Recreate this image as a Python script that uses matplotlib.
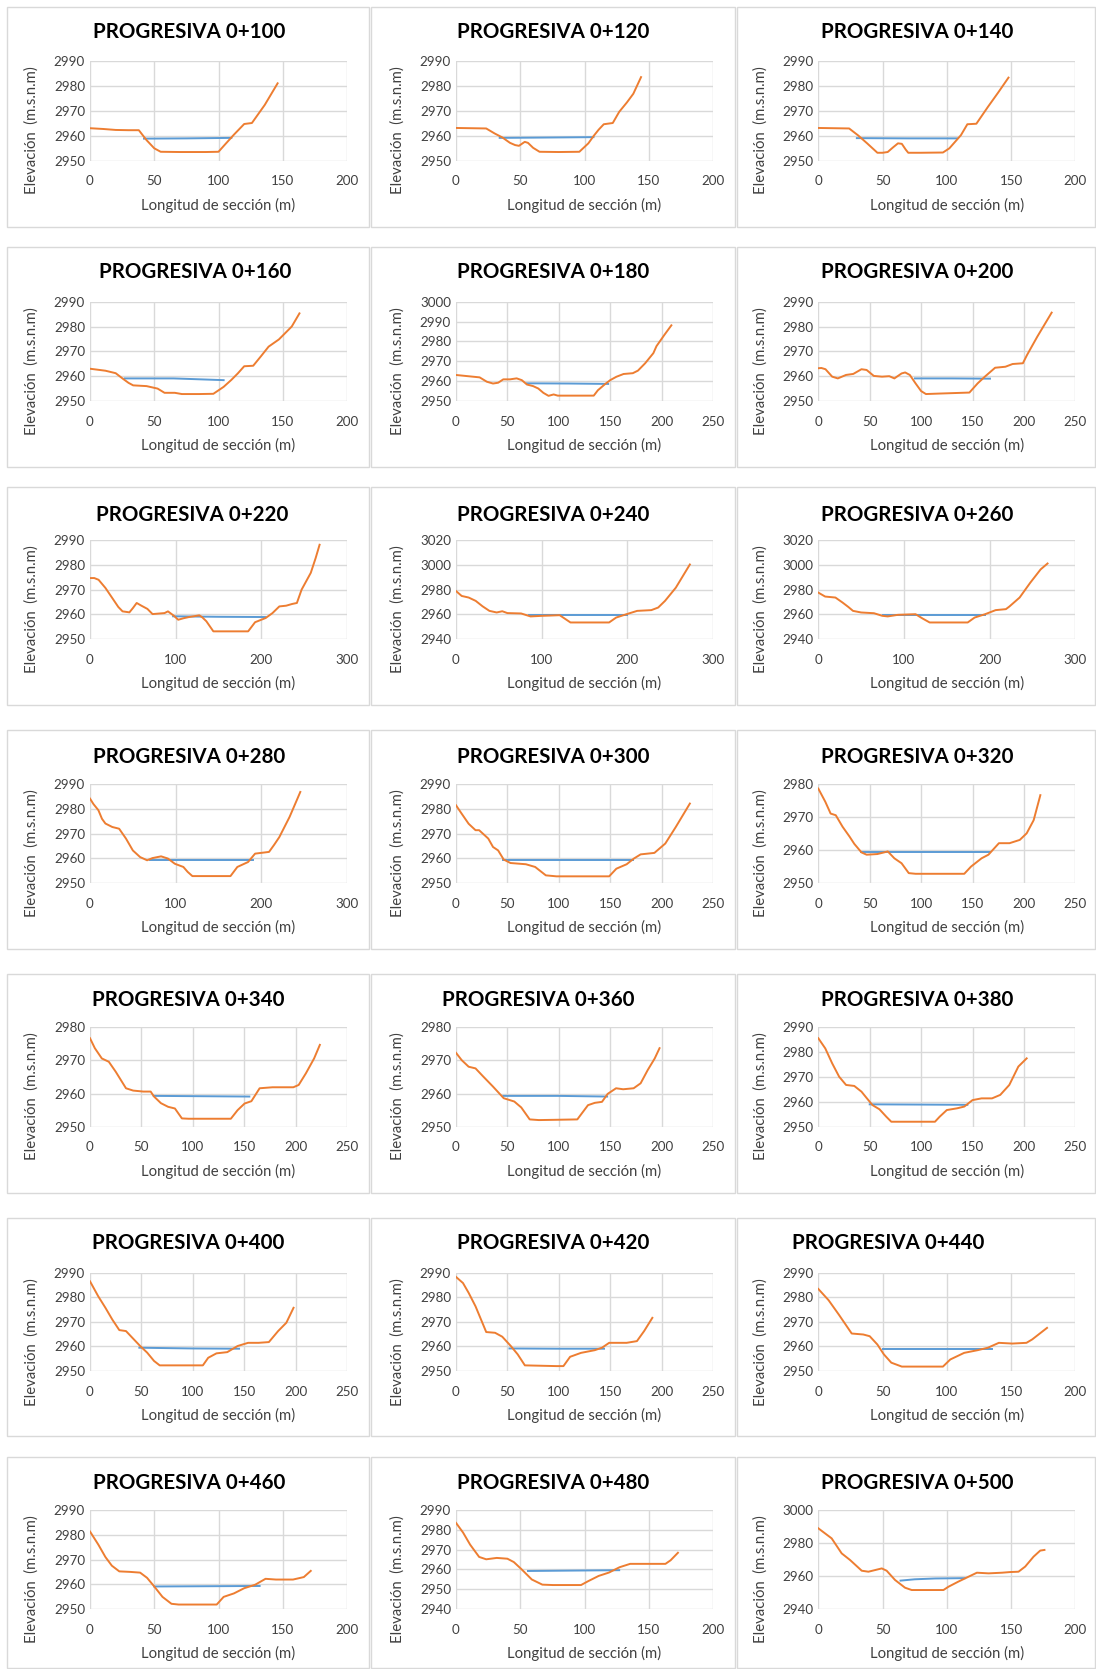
import numpy as np
import matplotlib
matplotlib.use("Agg")
import matplotlib.pyplot as plt
from matplotlib.patches import Rectangle

# ---------------------------------------------------------------------------
# Cross sections: terrain profile (x, z) and water surface (wx, wz), in metres
# ---------------------------------------------------------------------------
st100_x = [0, 10, 20, 30, 38, 44, 50, 55, 70, 90, 100, 105, 112, 120, 126, 136, 146]
st100_z = [2963.1, 2962.8, 2962.4, 2962.3, 2962.3, 2958.3, 2955.0, 2953.6, 2953.5, 2953.5, 2953.6,
           2956.5, 2960.5, 2964.8, 2965.2, 2972.5, 2981.2]
st100_wx = [42, 75, 110]
st100_wz = [2958.9, 2959.0, 2959.2]

st120_x = [0, 23.5, 30, 36, 42, 46, 49, 53.5, 56, 60, 65, 80, 96, 103, 107, 111, 115, 122, 127, 133, 138, 144]
st120_z = [2963.2, 2963.0, 2961.0, 2959.4, 2957.2, 2956.3, 2956.0, 2957.6, 2957.2, 2955.2, 2953.6, 2953.5,
           2953.6, 2957.0, 2959.9, 2962.5, 2964.7, 2965.2, 2969.7, 2973.5, 2977.0, 2983.7]
st120_wx = [34, 60, 107]
st120_wz = [2959.2, 2959.3, 2959.5]

st140_x = [0, 24, 31, 38, 46, 50, 54, 58, 62, 65, 68, 70, 80, 97, 102, 105.4, 111, 116, 123, 132, 140, 148]
st140_z = [2963.2, 2963.0, 2960.2, 2957.0, 2953.2, 2953.2, 2953.5, 2955.3, 2957.0, 2956.8, 2954.5, 2953.2,
           2953.2, 2953.3, 2955.0, 2957.0, 2960.3, 2964.7, 2964.9, 2971.7, 2977.5, 2983.5]
st140_wx = [30, 70, 108]
st140_wz = [2959.1, 2959.0, 2959.0]

st160_x = [0, 12, 20, 25.5, 30, 33.6, 44, 52.6, 58, 66, 71.5, 85, 96, 104, 110, 115, 120, 127, 133, 139,
           147, 157, 163]
st160_z = [2963.0, 2962.2, 2961.2, 2959.0, 2957.3, 2956.3, 2956.0, 2955.0, 2953.3, 2953.3, 2952.8, 2952.8,
           2952.9, 2955.7, 2958.5, 2961.1, 2964.0, 2964.2, 2968.0, 2971.9, 2974.8, 2980.0, 2985.3]
st160_wx = [27, 65, 104]
st160_wz = [2959.1, 2959.1, 2958.4]

st180_x = [0, 23, 30, 36, 41, 46, 52.5, 59, 64, 69, 75, 80, 85, 90, 95, 99, 111, 134, 138, 145, 150, 156,
           163, 172, 177, 184, 192, 195, 203, 209.5]
st180_z = [2963.1, 2961.9, 2959.7, 2958.8, 2959.2, 2960.9, 2960.9, 2961.4, 2960.5, 2958.3, 2957.5, 2956.3,
           2954.1, 2952.6, 2953.3, 2952.7, 2952.7, 2952.7, 2955.4, 2958.5, 2960.5, 2962.2, 2963.6, 2964.0,
           2965.3, 2969.0, 2974.1, 2977.6, 2983.5, 2988.1]
st180_wx = [69, 110, 148]
st180_wz = [2958.9, 2958.8, 2958.6]

st200_x = [0, 3, 7, 13.5, 19, 27, 34, 42, 47, 54, 62, 69, 74, 81, 84.5, 89, 94.6, 100, 104.7, 118, 147,
           155, 162, 172, 182, 189, 199, 203, 213, 227]
st200_z = [2963.2, 2963.3, 2962.8, 2959.8, 2959.1, 2960.5, 2960.9, 2962.8, 2962.5, 2960.1, 2959.8, 2960.0,
           2959.1, 2961.1, 2961.5, 2960.5, 2957.1, 2954.0, 2952.8, 2953.0, 2953.4, 2957.1, 2959.8, 2963.4,
           2963.8, 2964.9, 2965.2, 2968.5, 2975.9, 2985.6]
st200_wx = [94, 130, 167]
st200_wz = [2959.1, 2959.1, 2959.0]

st220_x = [0, 5, 10, 18, 26, 33, 38, 46, 50, 54.5, 60, 67, 73, 80, 87, 91, 97.6, 103, 109, 115.5, 121,
           127.6, 131, 135.8, 144, 165, 184.6, 192.7, 205, 213, 221, 229, 236, 241.5, 247, 257.7, 263.4, 268]
st220_z = [2974.7, 2974.7, 2974.0, 2970.7, 2966.6, 2963.0, 2961.2, 2960.8, 2962.5, 2964.6, 2963.5, 2962.2,
           2960.1, 2960.3, 2960.5, 2961.2, 2959.5, 2957.8, 2958.4, 2958.9, 2959.2, 2959.6, 2958.8, 2957.2,
           2953.1, 2953.1, 2953.1, 2956.8, 2958.5, 2960.5, 2963.2, 2963.5, 2964.2, 2964.6, 2970.0, 2976.8,
           2982.8, 2988.2]
st220_wx = [97, 150, 205]
st220_wz = [2959.2, 2959.0, 2958.9]

st240_x = [0, 6.6, 14.8, 23, 31, 39, 47.5, 54, 60, 76, 87, 101, 110, 121, 127, 133.6, 155, 178.7, 187,
           199, 211.5, 228, 236, 244, 256.6, 273]
st240_z = [2978.9, 2974.9, 2973.6, 2970.9, 2966.5, 2962.8, 2961.5, 2962.5, 2961.0, 2960.7, 2958.3, 2958.8,
           2959.0, 2959.3, 2956.5, 2953.4, 2953.4, 2953.4, 2957.4, 2960.1, 2962.8, 2963.4, 2965.5, 2970.9,
           2981.6, 3000.4]
st240_wx = [85, 140, 200]
st240_wz = [2959.3, 2959.3, 2959.3]

st260_x = [0, 8, 20, 28.4, 35, 40.5, 50, 65, 74.6, 81, 93, 113.5, 122, 130, 150, 174.4, 182.5, 194.7,
           207, 219, 223, 235, 247.4, 259.5, 267.6]
st260_z = [2977.6, 2974.4, 2973.6, 2969.5, 2966.0, 2962.8, 2961.5, 2960.9, 2958.8, 2958.3, 2959.6, 2960.1,
           2956.5, 2953.4, 2953.4, 2953.4, 2957.4, 2960.1, 2963.4, 2964.2, 2966.3, 2973.6, 2985.6, 2996.4,
           3001.2]
st260_wx = [75, 135, 195]
st260_wz = [2959.3, 2959.3, 2959.3]

st280_x = [0, 4, 9.8, 14, 18, 26, 34, 42, 50, 58.5, 66.7, 73, 83, 91, 99, 109, 114, 119.5, 140, 164,
           172, 184.5, 192.7, 209, 215, 221, 233, 245.5]
st280_z = [2984.2, 2982.0, 2979.5, 2976.0, 2974.1, 2972.7, 2972.0, 2968.0, 2963.2, 2960.5, 2959.2, 2960.1,
           2960.8, 2959.9, 2957.8, 2956.5, 2954.5, 2952.8, 2952.8, 2952.8, 2956.5, 2958.5, 2961.9, 2962.6,
           2965.5, 2968.6, 2976.8, 2986.9]
st280_wx = [70, 130, 190]
st280_wz = [2959.2, 2959.2, 2959.2]

st300_x = [0, 5.5, 12.3, 19, 22.5, 31.4, 36, 41, 46.4, 53, 68, 77, 87.4, 97.7, 120, 149, 156, 166, 173,
           179.6, 193, 203.6, 213.8, 227.5]
st300_z = [2981.5, 2978.1, 2974.0, 2971.4, 2971.4, 2968.0, 2964.6, 2963.2, 2959.5, 2958.1, 2957.6, 2956.5,
           2953.1, 2952.7, 2952.7, 2952.7, 2955.8, 2957.6, 2959.9, 2961.6, 2962.2, 2966.0, 2972.7, 2982.2]
st300_wx = [46, 110, 172]
st300_wz = [2959.2, 2959.2, 2959.2]

st320_x = [0, 6.8, 12, 17, 23.6, 30.4, 35, 42, 47, 57.4, 64, 67.6, 74, 81, 88, 94.6, 120, 142, 148.6,
           158.8, 165.5, 175.7, 186, 196, 202.7, 209.5, 216]
st320_z = [2978.7, 2974.7, 2971.1, 2970.6, 2967.1, 2964.1, 2961.9, 2959.3, 2958.6, 2958.8, 2959.3, 2959.6,
           2957.5, 2956.0, 2953.0, 2952.8, 2952.8, 2952.8, 2955.0, 2957.5, 2958.6, 2962.1, 2962.1, 2963.1,
           2965.1, 2969.1, 2976.7]
st320_wx = [42, 105, 167]
st320_wz = [2959.3, 2959.3, 2959.3]

st340_x = [0, 4.7, 11.5, 18.3, 25, 35, 42, 52, 59, 62.3, 69, 76, 82.6, 89.4, 96, 120, 137, 143.6, 150.4,
           157, 165, 177.5, 197.8, 203, 210, 218, 223.6]
st340_z = [2976.7, 2973.7, 2970.6, 2969.6, 2966.6, 2961.6, 2960.9, 2960.6, 2960.6, 2959.1, 2957.1, 2956.0,
           2955.5, 2952.5, 2952.4, 2952.4, 2952.4, 2955.0, 2957.0, 2957.7, 2961.6, 2961.9, 2961.9, 2962.6,
           2966.1, 2970.6, 2974.7]
st340_wx = [62, 110, 155]
st340_wz = [2959.3, 2959.2, 2959.1]

st360_x = [0, 5.5, 12.3, 19, 26, 36, 46.4, 56.7, 63.5, 71.7, 80.6, 100, 118, 128.4, 135, 142, 147.5,
           155.7, 162.6, 172.8, 179.6, 186.5, 193.3, 198]
st360_z = [2972.3, 2970.1, 2968.1, 2967.6, 2965.3, 2962.1, 2958.6, 2957.6, 2955.8, 2952.2, 2952.0, 2952.1,
           2952.2, 2956.5, 2957.2, 2957.5, 2959.9, 2961.6, 2961.3, 2961.6, 2963.1, 2967.1, 2970.6, 2973.7]
st360_wx = [46, 100, 147]
st360_wz = [2959.3, 2959.3, 2959.1]

st380_x = [0, 6.8, 13.5, 20.3, 27, 35, 42, 47.3, 52.7, 59.5, 66.2, 71, 90, 113.5, 118, 125, 135, 142,
           150, 158.8, 169, 177, 185.8, 194.6, 202.7]
st380_z = [2985.6, 2981.5, 2975.5, 2970.1, 2966.8, 2966.4, 2964.1, 2961.4, 2958.7, 2957.0, 2954.0, 2952.0,
           2952.0, 2952.0, 2954.0, 2956.7, 2957.4, 2958.1, 2960.7, 2961.4, 2961.4, 2962.8, 2966.8, 2974.2,
           2977.5]
st380_wx = [50, 100, 145]
st380_wz = [2959.0, 2958.9, 2958.8]

st400_x = [0, 8, 15, 21.7, 28.5, 35, 42, 48.8, 55.6, 62.3, 67.8, 90, 109.8, 115, 123, 133.5, 143.6, 153.8,
           164, 174, 183, 191, 198]
st400_z = [2986.6, 2980.5, 2975.8, 2971.0, 2966.7, 2966.3, 2963.2, 2960.2, 2957.5, 2954.1, 2952.3, 2952.3,
           2952.3, 2955.4, 2957.2, 2957.7, 2960.2, 2961.5, 2961.5, 2961.8, 2966.3, 2969.7, 2975.8]
st400_wx = [48, 100, 145]
st400_wz = [2959.5, 2959.2, 2959.1]

st420_x = [0, 6.8, 12.3, 19, 29.4, 38, 45, 53.3, 60, 67, 97.7, 104.5, 111, 121.6, 135, 142, 149, 166,
           176, 183, 191]
st420_z = [2988.4, 2985.9, 2981.9, 2976.4, 2965.9, 2965.6, 2964.0, 2960.2, 2956.8, 2952.3, 2952.0, 2952.0,
           2955.8, 2957.4, 2958.5, 2959.5, 2961.5, 2961.5, 2962.2, 2966.3, 2971.7]
st420_wx = [52, 100, 144]
st420_wz = [2959.2, 2959.1, 2959.1]

st440_x = [0, 8, 16, 26, 35, 40, 46, 51, 56.8, 65, 80, 97, 102.7, 113.5, 124, 132, 140.5, 151, 162,
           166.5, 178]
st440_z = [2983.5, 2978.9, 2973.0, 2965.3, 2964.9, 2964.2, 2960.8, 2956.8, 2953.4, 2951.8, 2951.8, 2951.8,
           2954.7, 2957.4, 2958.5, 2959.5, 2961.5, 2961.2, 2961.5, 2962.9, 2967.6]
st440_wx = [50, 95, 135]
st440_wz = [2959.1, 2959.1, 2959.1]

st460_x = [0, 6.5, 12, 17, 22.8, 31, 39, 44.4, 50, 56.4, 63.4, 69, 98.6, 104, 112, 120, 128.5, 136.6,
           144.7, 158, 166.4, 171.8]
st460_z = [2981.3, 2976.0, 2971.0, 2967.5, 2965.2, 2965.0, 2964.7, 2962.6, 2959.1, 2954.9, 2952.1, 2951.8,
           2951.8, 2954.9, 2956.3, 2958.4, 2959.8, 2962.2, 2961.9, 2961.9, 2962.9, 2965.4]
st460_wx = [50, 90, 132]
st460_wz = [2959.1, 2959.2, 2959.3]

st480_x = [0, 5.5, 11, 18, 23.5, 31.7, 40, 45, 50.8, 59, 67.2, 75.4, 97.3, 102.7, 111, 119, 127.3, 135.5,
           152, 163, 167, 172.7]
st480_z = [2983.5, 2978.6, 2972.5, 2966.3, 2965.1, 2965.8, 2965.4, 2963.7, 2960.2, 2954.9, 2952.3, 2952.1,
           2952.1, 2954.0, 2956.7, 2958.4, 2961.1, 2962.8, 2962.8, 2962.8, 2964.6, 2968.4]
st480_wx = [56, 90, 127]
st480_wz = [2959.2, 2959.4, 2959.6]

st500_x = [0, 10.4, 18.2, 24.7, 33.8, 39, 44.2, 49.4, 53.2, 59.7, 67.5, 72.7, 83, 97.4, 101.3, 109, 117,
           123.4, 132.5, 143, 149.4, 155.8, 161, 167.5, 172.7, 176]
st500_z = [2988.9, 2982.8, 2973.7, 2969.7, 2963.2, 2962.6, 2963.6, 2964.6, 2963.2, 2957.6, 2952.9, 2951.5,
           2951.5, 2951.5, 2953.5, 2956.6, 2959.6, 2962.0, 2961.6, 2962.0, 2962.4, 2962.6, 2965.7, 2971.7,
           2975.4, 2975.8]
st500_wx = [64, 75, 91, 114]
st500_wz = [2957.2, 2958.0, 2958.5, 2958.7]

# Station labels and axis ranges for each panel (row by row)
stations = ["0+100", "0+120", "0+140", "0+160", "0+180", "0+200", "0+220",
            "0+240", "0+260", "0+280", "0+300", "0+320", "0+340", "0+360",
            "0+380", "0+400", "0+420", "0+440", "0+460", "0+480", "0+500"]
y_min = [2950, 2950, 2950, 2950, 2950, 2950, 2950, 2940, 2940, 2950, 2950, 2950, 2950, 2950,
         2950, 2950, 2950, 2950, 2950, 2940, 2940]
y_max = [2990, 2990, 2990, 2990, 3000, 2990, 2990, 3020, 3020, 2990, 2990, 2980, 2980, 2980,
         2990, 2990, 2990, 2990, 2990, 2990, 3000]
y_step = [10, 10, 10, 10, 10, 10, 10, 20, 20, 10, 10, 10, 10, 10,
          10, 10, 10, 10, 10, 10, 20]
x_max = [200, 200, 200, 200, 250, 250, 300, 300, 300, 300, 250, 250, 250, 250,
         250, 250, 250, 200, 200, 200, 200]

profiles = [
    (st100_x, st100_z, st100_wx, st100_wz), (st120_x, st120_z, st120_wx, st120_wz),
    (st140_x, st140_z, st140_wx, st140_wz), (st160_x, st160_z, st160_wx, st160_wz),
    (st180_x, st180_z, st180_wx, st180_wz), (st200_x, st200_z, st200_wx, st200_wz),
    (st220_x, st220_z, st220_wx, st220_wz), (st240_x, st240_z, st240_wx, st240_wz),
    (st260_x, st260_z, st260_wx, st260_wz), (st280_x, st280_z, st280_wx, st280_wz),
    (st300_x, st300_z, st300_wx, st300_wz), (st320_x, st320_z, st320_wx, st320_wz),
    (st340_x, st340_z, st340_wx, st340_wz), (st360_x, st360_z, st360_wx, st360_wz),
    (st380_x, st380_z, st380_wx, st380_wz), (st400_x, st400_z, st400_wx, st400_wz),
    (st420_x, st420_z, st420_wx, st420_wz), (st440_x, st440_z, st440_wx, st440_wz),
    (st460_x, st460_z, st460_wx, st460_wz), (st480_x, st480_z, st480_wx, st480_wz),
    (st500_x, st500_z, st500_wx, st500_wz),
]

# ---------------------------------------------------------------------------
# Page layout (pixels)
# ---------------------------------------------------------------------------
W, H = 1096, 1669
plot_left = [90, 456, 818.3]
plot_width = 257
plot_top = [61.5, 301.7, 540.3, 784.3, 1027.3, 1273, 1510]
plot_bottom = [160.7, 401, 639, 883, 1126.7, 1371, 1609]
title_y = [32.5, 272, 514.7, 757, 1000, 1243, 1483]
title_x = [189, 553.5, 917, 195, 553.5, 917, 192, 553.5, 917, 189, 553.5, 917,
           188, 538, 917, 188, 553.5, 888, 189, 553.5, 917]
box_left = [7.3, 371, 737]
box_right = [369, 735, 1095]
box_top = [7.3, 247.3, 487, 730.3, 974, 1218, 1457]
box_bottom = [226.7, 466.7, 704.7, 948.7, 1192.7, 1436, 1668]

ORANGE = "#ED7D31"
BLUE = "#5B9BD5"
GRID = "#D9D9D9"
TEXT = "#404040"
FONT = ["Lato", "DejaVu Sans"]

plt.rcParams["font.family"] = FONT

fig = plt.figure(figsize=(W / 100, H / 100), dpi=100)
fig.patch.set_facecolor("white")


def fy(py):
    return 1 - py / H


for i, (tx, tz, wx, wz) in enumerate(profiles):
    r, c = divmod(i, 3)

    # chart-area frame
    fig.patches.append(Rectangle((box_left[c] / W, fy(box_bottom[r])),
                                 (box_right[c] - box_left[c]) / W,
                                 (box_bottom[r] - box_top[r]) / H,
                                 transform=fig.transFigure, fill=False,
                                 edgecolor=GRID, linewidth=1.0))

    ax = fig.add_axes([plot_left[c] / W, fy(plot_bottom[r]),
                       plot_width / W, (plot_bottom[r] - plot_top[r]) / H])
    ax.set_xlim(0, x_max[i])
    ax.set_ylim(y_min[i], y_max[i])
    xstep = 100 if x_max[i] == 300 else 50
    ax.set_xticks(np.arange(0, x_max[i] + 1, xstep))
    ax.set_yticks(np.arange(y_min[i], y_max[i] + 1, y_step[i]))
    ax.grid(True, color=GRID, linewidth=1.0)
    ax.set_axisbelow(True)
    for s in ax.spines.values():
        s.set_visible(False)
    ax.tick_params(axis="both", length=0, labelsize=9.6, labelcolor=TEXT)
    ax.tick_params(axis="x", pad=10.5)
    ax.tick_params(axis="y", pad=3.6)

    ax.plot(wx, wz, color=BLUE, linewidth=1.4, zorder=2)
    ax.plot(tx, tz, color=ORANGE, linewidth=1.4, zorder=3)

    # titles and axis labels
    fig.text(title_x[i] / W, fy(title_y[r]), "PROGRESIVA " + stations[i],
             ha="center", va="center", fontsize=14.8, fontweight="bold", color="black")
    fig.text((plot_left[c] + plot_width / 2) / W, fy(plot_bottom[r] + 44.5),
             "Longitud de sección (m)", ha="center", va="center", fontsize=10.7, color=TEXT)
    fig.text((plot_left[c] - 58) / W, fy(plot_top[r] + 69),
             "Elevación  (m.s.n.m)", ha="center", va="center", rotation=90,
             fontsize=10.7, color=TEXT)

fig.savefig("out.png", dpi=100, facecolor="white")
